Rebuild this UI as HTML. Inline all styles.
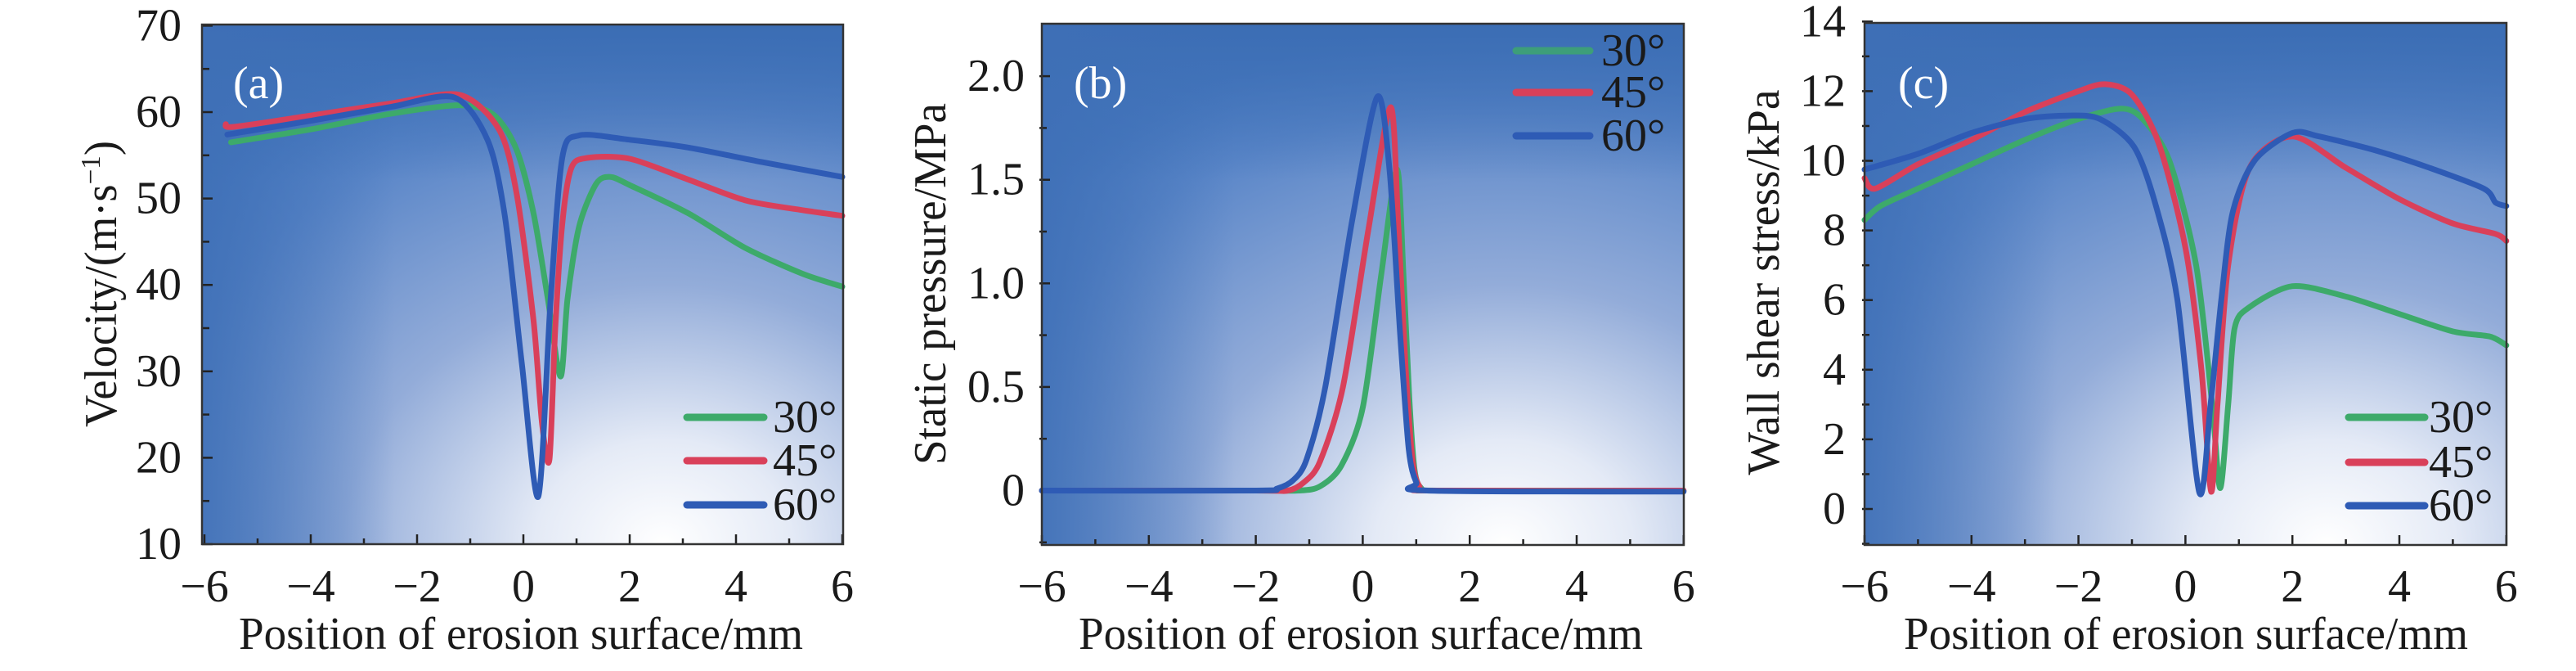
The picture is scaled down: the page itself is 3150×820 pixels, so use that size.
<!DOCTYPE html>
<html><head><meta charset="utf-8"><style>
html,body{margin:0;padding:0;background:#fff;}
svg{display:block;}
svg, svg text{font-family:'Liberation Serif','Times New Roman',Times,'Nimbus Roman','FreeSerif','DejaVu Serif',serif !important;}
text{fill:#1a1a1a;}
</style></head><body>
<svg id="s" width="3150" height="820" viewBox="0 0 3150 820" xmlns="http://www.w3.org/2000/svg">
<defs>
<radialGradient id="rg" cx="0.72" cy="1.0" r="1.0" fx="0.72" fy="1.0">
<stop offset="0" stop-color="#ffffff"/>
<stop offset="0.2" stop-color="#e4eaf6"/>
<stop offset="0.5" stop-color="#93acd9"/>
<stop offset="0.85" stop-color="#5a86c8"/>
<stop offset="1" stop-color="#4b7cc2"/>
</radialGradient>
<linearGradient id="lg" x1="0" y1="0" x2="0" y2="1">
<stop offset="0" stop-color="#3b6db4" stop-opacity="1"/>
<stop offset="0.3" stop-color="#3b6db4" stop-opacity="0"/>
</linearGradient>
<linearGradient id="lg2" x1="0" y1="0" x2="1" y2="0">
<stop offset="0" stop-color="#3e6fb6" stop-opacity="0.85"/>
<stop offset="0.3" stop-color="#3e6fb6" stop-opacity="0"/>
</linearGradient>
</defs>

<g>
<rect x="247" y="30" width="784" height="635" fill="url(#rg)"/>
<rect x="247" y="30" width="784" height="635" fill="url(#lg)"/>
<rect x="247" y="30" width="784" height="635" fill="url(#lg2)"/>
<rect x="1274" y="29" width="785" height="637" fill="url(#rg)"/>
<rect x="1274" y="29" width="785" height="637" fill="url(#lg)"/>
<rect x="1274" y="29" width="785" height="637" fill="url(#lg2)"/>
<rect x="2280" y="28" width="785" height="638" fill="url(#rg)"/>
<rect x="2280" y="28" width="785" height="638" fill="url(#lg)"/>
<rect x="2280" y="28" width="785" height="638" fill="url(#lg2)"/>
</g>
<g id="ticks" stroke="#222" stroke-width="2.5"></g>
<g id="curves" fill="none" stroke-width="7" stroke-linejoin="round" stroke-linecap="round"></g>
<g fill="none" stroke="#333" stroke-width="2.5">
<rect x="247" y="30" width="784" height="635"/>
<rect x="1274" y="29" width="785" height="637"/>
<rect x="2280" y="28" width="785" height="638"/>
</g>

<g font-size="56">
<text x="285" y="120" style="fill:#fff">(a)</text>
<text x="1313" y="120" style="fill:#fff">(b)</text>
<text x="2321" y="120" style="fill:#fff">(c)</text>
</g>

<g stroke-width="9" stroke-linecap="round">
<line x1="840" y1="510" x2="934" y2="510" stroke="#3daa6a"/>
<line x1="840" y1="563" x2="934" y2="563" stroke="#d9405a"/>
<line x1="840" y1="617" x2="934" y2="617" stroke="#2e5bb5"/>
<line x1="1854" y1="62" x2="1944" y2="62" stroke="#3daa6a" opacity="0.8"/>
<line x1="1854" y1="113" x2="1944" y2="113" stroke="#d9405a"/>
<line x1="1854" y1="166" x2="1944" y2="166" stroke="#2e5bb5"/>
<line x1="2872" y1="510" x2="2965" y2="510" stroke="#3daa6a"/>
<line x1="2872" y1="565" x2="2965" y2="565" stroke="#d9405a"/>
<line x1="2872" y1="618" x2="2965" y2="618" stroke="#2e5bb5"/>
</g>
<g font-size="56">
<text x="945" y="528">30°</text><text x="945" y="581">45°</text><text x="945" y="635">60°</text>
<text x="1958" y="80">30°</text><text x="1958" y="131">45°</text><text x="1958" y="184">60°</text>
<text x="2970" y="528">30°</text><text x="2970" y="583">45°</text><text x="2970" y="636">60°</text>
</g>

<g font-size="56" text-anchor="middle">
<text x="637" y="793" textLength="690" lengthAdjust="spacingAndGlyphs">Position of erosion surface/mm</text>
<text x="1664" y="793" textLength="690" lengthAdjust="spacingAndGlyphs">Position of erosion surface/mm</text>
<text x="2673" y="793" textLength="690" lengthAdjust="spacingAndGlyphs">Position of erosion surface/mm</text>
<text transform="translate(142,347) rotate(-90)" textLength="350" lengthAdjust="spacingAndGlyphs">Velocity/(m·s<tspan font-size="34" dy="-20">−1</tspan><tspan dy="20">)</tspan></text>
<text transform="translate(1156,347) rotate(-90)" textLength="442" lengthAdjust="spacingAndGlyphs">Static pressure/MPa</text>
<text transform="translate(2175,345) rotate(-90)" textLength="471" lengthAdjust="spacingAndGlyphs">Wall shear stress/kPa</text>
</g>
<g id="labels" font-size="56"></g>
</svg>
<script>
var NS="http://www.w3.org/2000/svg";
function el(p,t,a,txt){var e=document.createElementNS(NS,t);for(var k in a)e.setAttribute(k,a[k]);if(txt!==undefined)e.textContent=txt;document.getElementById(p).appendChild(e);return e;}
var P={
 a:{x0:250,kx:65,y0:665,ky:10.56,yb:10,top:30,bot:665,lx:222},
 b:{x0:1274,kx:65.4,y0:599.5,ky:253.2,yb:0,top:29,bot:666,lx:1253},
 c:{x0:2280,kx:65.4,y0:622,ky:42.55,yb:0,top:28,bot:666,lx:2257}
};
function X(p,x){return p.x0+(x+6)*p.kx;}
function Y(p,y){return p.y0-(y-p.yb)*p.ky;}
function ticks(p,yt,ym,fmt){
 for(var i=-6;i<=6;i++){var x=X(p,i);var L=(i%2==0)?12:7;
  el("ticks","line",{x1:x,y1:p.bot,x2:x,y2:p.bot-L});
  if(i%2==0) el("labels","text",{x:x,y:735,"text-anchor":"middle"},(i<0?"\u2212":"")+Math.abs(i));}
 yt.forEach(function(v){var y=Y(p,v);el("ticks","line",{x1:p.x0-3,y1:y,x2:p.x0+10,y2:y});
  el("labels","text",{x:p.lx,y:y+18,"text-anchor":"end"},fmt(v));});
 ym.forEach(function(v){var y=Y(p,v);el("ticks","line",{x1:p.x0-3,y1:y,x2:p.x0+6,y2:y});});
}
ticks(P.a,[10,20,30,40,50,60,70],[15,25,35,45,55,65],function(v){return ""+v;});
ticks(P.b,[0,0.5,1,1.5,2],[0.25,0.75,1.25,1.75,-0.25],function(v){return v==0?"0":v.toFixed(1);});
ticks(P.c,[0,2,4,6,8,10,12,14],[1,3,5,7,9,11,13,-1],function(v){return ""+v;});
function curve(p,pts,col){
 var q=pts.map(function(d){return [X(p,d[0]),Y(p,d[1])];});
 var s="M"+q[0][0]+","+q[0][1];
 for(var i=0;i<q.length-1;i++){
  var p0=q[i-1]||q[i],p1=q[i],p2=q[i+1],p3=q[i+2]||q[i+1];
  var t=0.28;
  var c1=[p1[0]+(p2[0]-p0[0])*t/2,p1[1]+(p2[1]-p0[1])*t/2];
  var c2=[p2[0]-(p3[0]-p1[0])*t/2,p2[1]-(p3[1]-p1[1])*t/2];
  s+=" C"+c1[0].toFixed(1)+","+c1[1].toFixed(1)+" "+c2[0].toFixed(1)+","+c2[1].toFixed(1)+" "+p2[0].toFixed(1)+","+p2[1].toFixed(1);
 }
 el("curves","path",{d:s,stroke:col});
}
var G="#3daa6a",R="#d9405a",B="#2e5bb5";
curve(P.a,[[-5.5,56.5],[-4,58],[-2.5,59.8],[-1.2,60.8],[-0.56,59.7],[-0.13,55.7],[0.19,48.3],[0.46,38.4],[0.7,29.4],[0.83,38.4],[1.05,46.8],[1.37,51.7],[1.64,52.5],[2.02,51.5],[3.1,48.3],[4.17,44.3],[5.25,41.3],[6,39.8]],G);
curve(P.a,[[-5.6,58.6],[-5.45,58.3],[-4,59.6],[-2.5,61],[-1.2,62],[-0.46,58],[-0.13,50.7],[0.19,35.9],[0.35,24],[0.49,19.8],[0.6,35],[0.73,47],[0.9,53.5],[1.2,54.7],[2.0,54.6],[3.1,52.2],[4.17,49.8],[5.2,48.7],[6,48]],R);
curve(P.a,[[-5.57,57.4],[-4,59],[-2.5,60.6],[-1.3,61.7],[-0.67,56.7],[-0.35,48],[-0.03,31],[0.28,15.5],[0.51,38],[0.73,54.7],[1.05,57.3],[2,56.8],[3.1,55.9],[4.5,54.2],[6,52.5]],B);
curve(P.b,[[-6,0],[-2,0],[-1.2,0.0],[-0.8,0.02],[-0.4,0.12],[0,0.4],[0.35,1.05],[0.64,1.55],[0.76,1.05],[0.87,0.45],[0.97,0.1],[1.1,0.01],[1.4,0.0],[6,0]],G);
curve(P.b,[[-6,0],[-2,0],[-1.4,0.0],[-1.1,0.04],[-0.8,0.14],[-0.37,0.5],[0.1,1.25],[0.52,1.85],[0.66,1.3],[0.8,0.6],[0.93,0.15],[1.06,0.02],[1.3,0.0],[6,0]],R);
curve(P.b,[[-6,0],[-2,0],[-1.6,0.01],[-1.3,0.05],[-1.05,0.15],[-0.7,0.5],[-0.2,1.3],[0.27,1.9],[0.5,1.55],[0.7,0.75],[0.86,0.2],[1.0,0.04],[1.2,0.0],[6,-0.005]],B);
curve(P.c,[[-6,8.3],[-5.7,8.7],[-5,9.2],[-4,9.9],[-3,10.6],[-2,11.2],[-1.2,11.5],[-0.8,11.2],[-0.3,10],[0.2,7],[0.5,3],[0.65,0.6],[0.8,3],[0.92,5.2],[1.2,5.8],[2,6.4],[3,6.1],[4,5.6],[5,5.1],[5.7,4.95],[6,4.7]],G);
curve(P.c,[[-6,9.5],[-5.8,9.2],[-5,9.9],[-4,10.6],[-3,11.4],[-2,12.0],[-1.5,12.2],[-1,11.9],[-0.5,10.5],[0,7.5],[0.3,4],[0.48,0.5],[0.6,3],[0.8,7],[1.2,9.8],[2.0,10.7],[3,9.8],[4,8.9],[5,8.2],[5.8,7.9],[6,7.7]],R);
curve(P.c,[[-6,9.75],[-5,10.2],[-4,10.8],[-3,11.2],[-2.2,11.3],[-1.6,11.2],[-0.96,10.4],[-0.55,8.7],[-0.15,6],[0.26,0.47],[0.47,3],[0.67,6],[0.88,8.5],[1.29,10],[2.0,10.8],[2.5,10.7],[3.55,10.3],[4.56,9.8],[5.58,9.2],[5.8,8.8],[6,8.7]],B);
</script>
</body></html>
